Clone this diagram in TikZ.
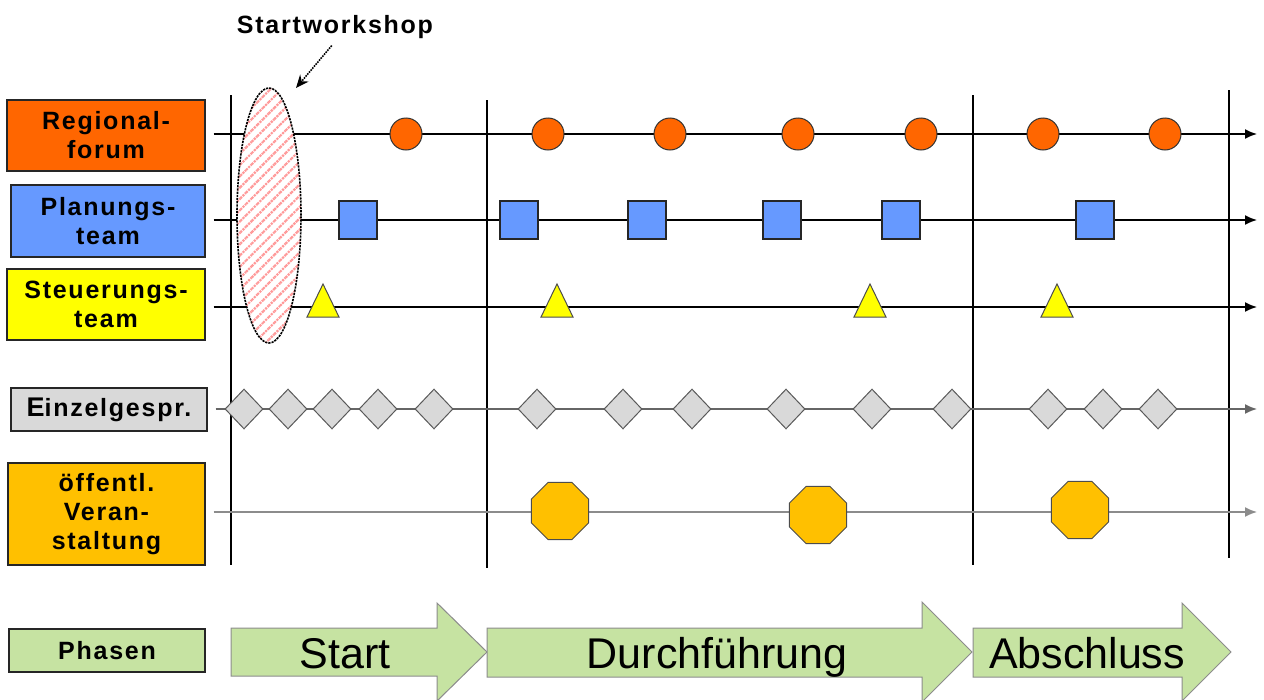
\documentclass[tikz,border=0pt]{standalone}
\usepackage{fontspec}
\setmainfont{Liberation Sans}
\newfontfamily\lblfont[LetterSpace=7]{Liberation Sans}
\usetikzlibrary{arrows, arrows.meta, shapes.geometric, patterns.meta}

\definecolor{regioorange}{HTML}{FF6600}
\definecolor{planblue}{HTML}{6699FF}
\definecolor{steuergelb}{HTML}{FFFF00}
\definecolor{einzelgrau}{HTML}{D9D9D9}
\definecolor{oeffgold}{HTML}{FFC000}
\definecolor{phasengruen}{HTML}{C6E3A2}

\tikzset{
  lbl/.style={draw=black!85, line width=1.3pt, align=center, inner sep=0pt,
    font=\lblfont\fontsize{25}{29}\selectfont\bfseries},
  rowline/.style={line width=1.6pt, -{Latex[length=12pt, width=10pt]}, shorten <=8pt},
  kreis/.style={circle, draw=black!80, line width=1pt, fill=regioorange, minimum size=32pt, inner sep=0pt},
  quadrat/.style={rectangle, draw=black!85, line width=1.2pt, fill=planblue, minimum size=38pt, inner sep=0pt},
  dreieck/.style={isosceles triangle, isosceles triangle stretches, shape border rotate=90,
    minimum width=32pt, minimum height=33pt, draw=black!70, line width=1pt, fill=steuergelb, inner sep=0pt},
  raute/.style={diamond, draw=black!65, line width=1pt, fill=einzelgrau, minimum width=38pt, minimum height=40pt, inner sep=0pt},
  achteck/.style={regular polygon, regular polygon sides=8, minimum size=62pt, draw=black!70, line width=1pt, fill=oeffgold, inner sep=0pt},
  phase/.style={draw=black!45, line width=1pt, fill=phasengruen},
  phasetxt/.style={anchor=base, font=\fontsize{43}{43}\selectfont}
}

\begin{document}
\begin{tikzpicture}[>=latex, x=1pt, y=-1pt]
\useasboundingbox (0,0) rectangle (1264,699);

% left labels
\node[lbl, fill=regioorange, minimum width=198pt, minimum height=71pt] (regio) at (106,135.5) {Regional-\\forum};
\node[lbl, fill=planblue, minimum width=194pt, minimum height=72pt] (plan) at (108,221) {Planungs-\\team};
\node[lbl, fill=steuergelb, minimum width=198pt, minimum height=71pt] (steuer) at (106,304.5) {Steuerungs-\\team};
\node[lbl, fill=einzelgrau, minimum width=196pt, minimum height=43pt] (einzel) at (109,409.5) {{\fontsize{27}{29}\selectfont E}inzelgespr.};
\node[lbl, fill=oeffgold, minimum width=197pt, minimum height=102pt] (oeff) at (106.5,514) {öffentl.\\Veran-\\staltung};
\node[lbl, fill=phasengruen, minimum width=196pt, minimum height=43pt] (phasen) at (107,650.5) {Phasen};

% phase borders
\draw[line width=1.1pt] (231,95)--(231,565);
\draw[line width=1.1pt] (487,100)--(487,568);
\draw[line width=1.1pt] (973,95)--(973,565);
\draw[line width=1.1pt] (1229,90)--(1229,558);

% time lines
\coordinate (regioend) at (1257,134);
\coordinate (planend) at (1257,220);
\coordinate (steuerend) at (1257,307);
\coordinate (einzelend) at (1257,409);
\coordinate (oeffend) at (1257,512);
\draw[rowline] (regioend -| regio.east) -- (regioend);
\draw[rowline] (planend -| plan.east) -- (planend);
\draw[rowline] (steuerend -| steuer.east) -- (steuerend);
\draw[rowline, black!60] (einzelend -| einzel.east) -- (einzelend);
\draw[rowline, black!45] (oeffend -| oeff.east) -- (oeffend);

% Startworkshop
\node[ellipse, minimum width=64pt, minimum height=255pt, draw, densely dotted, line width=1.6pt,
  preaction={fill=white}, pattern={Lines[angle=45, distance=8pt, line width=2.2pt]}, pattern color=red!40] (ws) at (269,215.5) {};
\node[anchor=base, font=\lblfont\fontsize{25}{29}\selectfont\bfseries] (wslabel) at (335,33) {Startworkshop};
\coordinate (wstip) at (296,88);
\draw[-{Stealth[length=13pt, width=11pt]}, densely dotted, line width=1.6pt, shorten <=5pt] (wslabel.south) -- (wstip);

% Regionalforum
\node[kreis] (r1) at (406,134) {};
\node[kreis] (r2) at (548,134) {};
\node[kreis] (r3) at (670,134) {};
\node[kreis] (r4) at (798,134) {};
\node[kreis] (r5) at (921,134) {};
\node[kreis] (r6) at (1043,134) {};
\node[kreis] (r7) at (1165,134) {};

% Planungsteam
\node[quadrat] (p1) at (358,220) {};
\node[quadrat] (p2) at (519,220) {};
\node[quadrat] (p3) at (647,220) {};
\node[quadrat] (p4) at (782,220) {};
\node[quadrat] (p5) at (901,220) {};
\node[quadrat] (p6) at (1095,220) {};

% Steuerungsteam
\node[dreieck] (s1) at (323,307) {};
\node[dreieck] (s2) at (557,307) {};
\node[dreieck] (s3) at (870,307) {};
\node[dreieck] (s4) at (1057,307) {};

% Einzelgespraeche
\node[raute] (e1) at (244,409) {};
\node[raute] (e2) at (288,409) {};
\node[raute] (e3) at (332,409) {};
\node[raute] (e4) at (378,409) {};
\node[raute] (e5) at (434,409) {};
\node[raute] (e6) at (537,409) {};
\node[raute] (e7) at (623,409) {};
\node[raute] (e8) at (692,409) {};
\node[raute] (e9) at (786,409) {};
\node[raute] (e10) at (872,409) {};
\node[raute] (e11) at (952,409) {};
\node[raute] (e12) at (1048,409) {};
\node[raute] (e13) at (1103,409) {};
\node[raute] (e14) at (1158,409) {};

% Veranstaltungen
\node[achteck] (o1) at (560,511) {};
\node[achteck] (o2) at (818,515) {};
\node[achteck] (o3) at (1080,510) {};

% phases
\draw[phase] (231,628)--(437,628)--(437,603)--(487,652)--(437,701)--(437,676)--(231,676)--cycle;
\draw[phase] (487,628)--(922,628)--(922,602)--(972,652)--(922,702)--(922,677)--(487,677)--cycle;
\draw[phase] (973,628)--(1182,628)--(1182,603)--(1231,652)--(1182,701)--(1182,677)--(973,677)--cycle;
\node[phasetxt] (start) at (345,668) {Start};
\node[phasetxt] (durch) at (717,668) {Durchführung};
\node[phasetxt] (absch) at (1087,668) {Abschluss};

\end{tikzpicture}
\end{document}
